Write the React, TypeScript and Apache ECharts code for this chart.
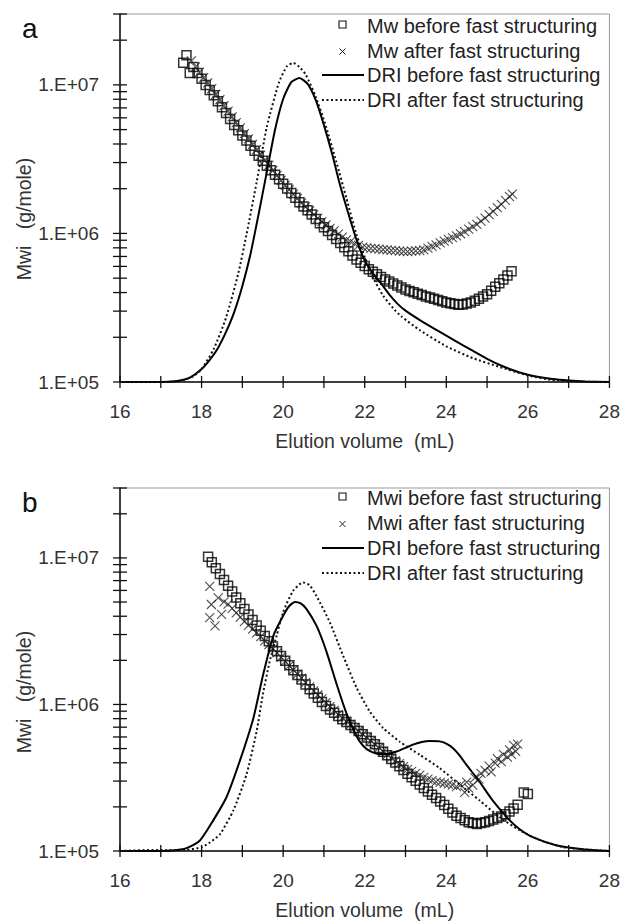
import React, { useEffect, useRef } from "react";
import * as echarts from "echarts";

const FONT = '"Liberation Sans", Arial, Helvetica, sans-serif';

// ---------- shared axis data ----------
const xTickValues = [16, 17, 18, 19, 20, 21, 22, 23, 24, 25, 26, 27, 28];
const yTickValues = [
  1e5, 2e5, 3e5, 4e5, 5e5, 6e5, 7e5, 8e5, 9e5,
  1e6, 2e6, 3e6, 4e6, 5e6, 6e6, 7e6, 8e6, 9e6,
  1e7, 2e7, 3e7,
];
const xAxisTitle = "Elution volume  (mL)";
const yAxisTitle = "Mwi   (g/mole)";

// ---------- panel a ----------
const aLegend = [
  "Mw before fast structuring",
  "Mw after fast structuring",
  "DRI before fast structuring",
  "DRI after fast structuring",
];

// Mw before fast structuring (squares): [elution volume mL, g/mole]
const aMwBefore: [number, number][] = [
  [17.55, 1.41e7], [17.63, 1.58e7], [17.71, 1.2e7], [17.8, 1.32e7], [17.9, 1.2e7],
  [18.0, 1.1e7], [18.1, 1.0e7], [18.2, 9.23e6], [18.3, 8.51e6], [18.4, 7.76e6],
  [18.5, 7.08e6], [18.6, 6.46e6], [18.7, 5.89e6], [18.8, 5.37e6], [18.9, 4.95e6],
  [19.0, 4.57e6], [19.1, 4.22e6], [19.2, 3.89e6], [19.3, 3.6e6], [19.4, 3.33e6],
  [19.5, 3.08e6], [19.6, 2.85e6], [19.7, 2.66e6], [19.8, 2.48e6], [19.9, 2.32e6],
  [20.0, 2.16e6], [20.1, 2.01e6], [20.2, 1.87e6], [20.3, 1.74e6], [20.4, 1.62e6],
  [20.5, 1.52e6], [20.6, 1.43e6], [20.7, 1.34e6], [20.8, 1.25e6], [20.9, 1.17e6],
  [21.0, 1.1e6], [21.1, 1.04e6], [21.2, 9.75e5], [21.3, 9.16e5], [21.4, 8.61e5],
  [21.5, 8.07e5], [21.6, 7.59e5], [21.7, 7.11e5], [21.8, 6.68e5], [21.9, 6.35e5],
  [22.0, 6.04e5], [22.1, 5.75e5], [22.2, 5.52e5], [22.3, 5.31e5], [22.4, 5.09e5],
  [22.5, 4.9e5], [22.6, 4.74e5], [22.7, 4.6e5], [22.8, 4.46e5], [22.9, 4.33e5],
  [23.0, 4.19e5], [23.1, 4.1e5], [23.2, 4.02e5], [23.3, 3.93e5], [23.4, 3.85e5],
  [23.5, 3.77e5], [23.6, 3.7e5], [23.7, 3.63e5], [23.8, 3.56e5], [23.9, 3.49e5],
  [24.0, 3.43e5], [24.1, 3.39e5], [24.2, 3.35e5], [24.3, 3.31e5], [24.4, 3.33e5],
  [24.5, 3.37e5], [24.6, 3.43e5], [24.7, 3.52e5], [24.8, 3.63e5], [24.9, 3.76e5],
  [25.0, 3.89e5], [25.1, 4.12e5], [25.2, 4.37e5], [25.3, 4.62e5], [25.4, 4.9e5],
  [25.5, 5.22e5], [25.6, 5.56e5],
];

// Mw after fast structuring (crosses)
const aMwAfter: [number, number][] = [
  [17.75, 1.45e7], [17.85, 1.32e7], [17.95, 1.22e7], [18.05, 1.12e7], [18.15, 1.03e7],
  [18.25, 9.44e6], [18.35, 8.65e6], [18.45, 7.94e6], [18.55, 7.24e6], [18.65, 6.65e6],
  [18.75, 6.1e6], [18.85, 5.58e6], [18.95, 5.13e6], [19.05, 4.7e6], [19.15, 4.33e6],
  [19.25, 3.98e6], [19.35, 3.66e6], [19.45, 3.37e6], [19.55, 3.11e6], [19.65, 2.88e6],
  [19.75, 2.66e6], [19.85, 2.46e6], [19.95, 2.28e6], [20.05, 2.11e6], [20.15, 1.97e6],
  [20.25, 1.84e6], [20.35, 1.72e6], [20.45, 1.6e6], [20.55, 1.51e6], [20.65, 1.42e6],
  [20.75, 1.34e6], [20.85, 1.27e6], [20.95, 1.2e6], [21.05, 1.14e6], [21.15, 1.08e6],
  [21.25, 1.04e6], [21.35, 9.89e5], [21.45, 9.44e5], [21.55, 9.06e5], [21.65, 8.81e5],
  [21.75, 8.55e5], [21.85, 8.32e5], [21.95, 8.09e5], [22.05, 8.0e5], [22.15, 7.94e5],
  [22.25, 7.89e5], [22.35, 7.83e5], [22.45, 7.78e5], [22.55, 7.74e5], [22.65, 7.69e5],
  [22.75, 7.66e5], [22.85, 7.6e5], [22.95, 7.57e5], [23.05, 7.55e5], [23.15, 7.59e5],
  [23.25, 7.62e5], [23.35, 7.66e5], [23.45, 7.76e5], [23.55, 7.96e5], [23.65, 8.17e5],
  [23.75, 8.39e5], [23.85, 8.63e5], [23.95, 8.87e5], [24.05, 9.12e5], [24.15, 9.38e5],
  [24.25, 9.64e5], [24.35, 9.95e5], [24.45, 1.03e6], [24.55, 1.07e6], [24.65, 1.11e6],
  [24.75, 1.15e6], [24.85, 1.21e6], [24.95, 1.27e6], [25.05, 1.34e6], [25.15, 1.41e6],
  [25.25, 1.49e6], [25.35, 1.57e6], [25.45, 1.67e6], [25.55, 1.77e6], [25.62, 1.84e6],
];

// DRI signals, relative response (0-100 of the hidden right-hand scale)
const aDriBefore: [number, number][] = [
  [16, 0], [16.5, 0], [17, 0], [17.4, 0.3], [17.7, 1.1], [18, 3.5], [18.2, 6.0],
  [18.4, 9.2], [18.6, 13.6], [18.8, 19.0], [19, 26.1], [19.2, 34.8], [19.4, 45.7],
  [19.6, 57.1], [19.8, 68.5], [20, 76.9], [20.2, 81.5], [20.4, 82.6], [20.6, 81.0],
  [20.8, 76.6], [21, 69.8], [21.2, 62.0], [21.4, 53.3], [21.6, 45.7], [21.8, 38.6],
  [22, 33.0], [22.2, 29.5], [22.4, 26.8], [22.6, 23.8], [22.8, 21.3], [23, 19.4],
  [23.4, 16.5], [23.8, 13.9], [24.2, 11.3], [24.6, 8.8], [25, 6.3], [25.4, 4.2],
  [25.8, 2.6], [26.2, 1.5], [26.6, 0.8], [27, 0.4], [27.4, 0.15], [28, 0],
];
const aDriAfter: [number, number][] = [
  [16, 0], [16.6, 0], [17, 0], [17.5, 0.3], [17.8, 1.6], [18, 3.5], [18.3, 9.0],
  [18.6, 17.5], [18.9, 29.5], [19.1, 40.0], [19.35, 54.3], [19.6, 69.3], [19.9, 81.5],
  [20.1, 85.9], [20.25, 86.7], [20.4, 85.6], [20.55, 83.6], [20.8, 77.5], [21.05, 69.5],
  [21.3, 60.0], [21.55, 50.0], [21.8, 40.0], [22.0, 34.0], [22.2, 28.5], [22.45, 23.5],
  [22.7, 20.0], [22.9, 17.8], [23.35, 14.1], [24, 9.7], [24.65, 6.5], [25.3, 4.1],
  [25.96, 1.9], [26.6, 0.5], [27.2, 0.1], [28, 0],
];

// ---------- panel b ----------
const bLegend = [
  "Mwi before fast structuring",
  "Mwi after fast structuring",
  "DRI before fast structuring",
  "DRI after fast structuring",
];

const bMwBefore: [number, number][] = [
  [18.16, 1.02e7], [18.25, 9.33e6], [18.35, 8.51e6], [18.45, 7.76e6], [18.55, 7.08e6],
  [18.65, 6.46e6], [18.75, 5.89e6], [18.85, 5.37e6], [18.95, 4.9e6], [19.05, 4.48e6],
  [19.15, 4.11e6], [19.25, 3.77e6], [19.35, 3.46e6], [19.45, 3.18e6], [19.55, 2.93e6],
  [19.65, 2.7e6], [19.75, 2.49e6], [19.85, 2.31e6], [19.95, 2.14e6], [20.05, 1.99e6],
  [20.15, 1.85e6], [20.25, 1.71e6], [20.35, 1.59e6], [20.45, 1.48e6], [20.55, 1.37e6],
  [20.65, 1.27e6], [20.75, 1.19e6], [20.85, 1.11e6], [20.95, 1.04e6], [21.05, 9.75e5],
  [21.15, 9.25e5], [21.25, 8.79e5], [21.35, 8.34e5], [21.45, 7.94e5], [21.55, 7.59e5],
  [21.65, 7.24e5], [21.75, 6.92e5], [21.85, 6.59e5], [21.95, 6.25e5], [22.05, 5.94e5],
  [22.15, 5.64e5], [22.25, 5.35e5], [22.35, 5.05e5], [22.45, 4.75e5], [22.55, 4.5e5],
  [22.65, 4.25e5], [22.75, 4.01e5], [22.85, 3.78e5], [22.95, 3.57e5], [23.05, 3.37e5],
  [23.15, 3.18e5], [23.25, 3.01e5], [23.35, 2.84e5], [23.45, 2.69e5], [23.55, 2.55e5],
  [23.65, 2.42e5], [23.75, 2.3e5], [23.85, 2.18e5], [23.95, 2.06e5], [24.05, 1.94e5],
  [24.15, 1.83e5], [24.25, 1.74e5], [24.35, 1.68e5], [24.45, 1.62e5], [24.55, 1.57e5],
  [24.65, 1.55e5], [24.75, 1.53e5], [24.85, 1.55e5], [24.95, 1.57e5], [25.05, 1.6e5],
  [25.15, 1.64e5], [25.25, 1.68e5], [25.35, 1.72e5], [25.45, 1.78e5], [25.55, 1.86e5],
  [25.65, 1.95e5], [25.75, 2.07e5], [25.9, 2.51e5], [26.0, 2.45e5],
];

const bMwAfter: [number, number][] = [
  [18.2, 6.4e6], [18.2, 3.91e6], [18.24, 4.81e6], [18.33, 3.44e6], [18.41, 5.33e6],
  [18.49, 4.12e6], [18.55, 5.01e6], [18.65, 4.84e6], [18.75, 4.52e6], [18.85, 4.22e6],
  [18.95, 3.94e6], [19.05, 3.68e6], [19.15, 3.47e6], [19.25, 3.27e6], [19.35, 3.08e6],
  [19.45, 2.9e6], [19.55, 2.72e6], [19.65, 2.56e6], [19.75, 2.4e6], [19.85, 2.25e6],
  [19.95, 2.1e6], [20.05, 1.97e6], [20.15, 1.84e6], [20.25, 1.72e6], [20.35, 1.61e6],
  [20.45, 1.51e6], [20.55, 1.41e6], [20.65, 1.32e6], [20.75, 1.24e6], [20.85, 1.16e6],
  [20.95, 1.09e6], [21.05, 1.03e6], [21.15, 9.68e5], [21.25, 9.12e5], [21.35, 8.57e5],
  [21.45, 8.11e5], [21.55, 7.69e5], [21.65, 7.31e5], [21.75, 6.93e5], [21.85, 6.59e5],
  [21.95, 6.25e5], [22.05, 5.94e5], [22.15, 5.64e5], [22.25, 5.35e5], [22.35, 5.07e5],
  [22.45, 4.8e5], [22.55, 4.54e5], [22.65, 4.32e5], [22.75, 4.12e5], [22.85, 3.94e5],
  [22.95, 3.76e5], [23.05, 3.61e5], [23.15, 3.5e5], [23.25, 3.39e5], [23.35, 3.29e5],
  [23.45, 3.18e5], [23.55, 3.09e5], [23.65, 3.02e5], [23.75, 2.96e5], [23.85, 2.94e5],
  [23.95, 2.9e5], [24.05, 2.86e5], [24.15, 2.82e5], [24.25, 2.75e5], [24.35, 2.83e5],
  [24.45, 2.51e5], [24.5, 2.95e5], [24.55, 2.69e5], [24.65, 2.82e5], [24.7, 3.16e5],
  [24.8, 3.09e5], [24.85, 3.39e5], [24.95, 3.55e5], [25.05, 3.8e5], [25.1, 3.47e5],
  [25.2, 3.98e5], [25.25, 4.27e5], [25.35, 4.07e5], [25.4, 4.57e5], [25.5, 4.37e5],
  [25.55, 4.9e5], [25.6, 4.57e5], [25.65, 5.25e5], [25.7, 4.79e5], [25.75, 5.37e5],
];

const bDriBefore: [number, number][] = [
  [16, 0], [16.5, 0], [17, 0], [17.4, 0.3], [17.63, 0.8], [17.96, 2.9], [18.29, 8.5],
  [18.61, 14.8], [18.94, 24.9], [19.27, 36.6], [19.51, 48.6], [19.76, 59.3], [20.0, 64.8],
  [20.15, 67.5], [20.29, 68.6], [20.43, 68.2], [20.57, 66.7], [20.82, 62.0], [21.06, 55.0],
  [21.31, 46.0], [21.55, 38.0], [21.8, 31.6], [21.96, 29.0], [22.12, 27.6], [22.37, 26.7],
  [22.58, 26.8], [22.78, 27.4], [23.0, 28.4], [23.18, 29.3], [23.4, 30.0], [23.59, 30.3],
  [23.84, 30.2], [24.0, 29.6], [24.16, 28.4], [24.33, 26.3], [24.49, 23.8], [24.82, 19.0],
  [25.14, 13.9], [25.55, 8.5], [25.8, 6.0], [26.12, 3.8], [26.69, 1.6], [27.35, 0.5], [28, 0],
];
const bDriAfter: [number, number][] = [
  [16, 0], [16.8, 0.3], [17.2, 0.2], [17.6, 0.3], [18.0, 1.0], [18.2, 2.3], [18.45, 4.6],
  [18.78, 11.2], [19.1, 21.0], [19.35, 33.0], [19.5, 43.0], [19.67, 52.2], [19.84, 59.3],
  [20.0, 65.8], [20.24, 71.6], [20.49, 74.0], [20.65, 73.2], [20.82, 70.2], [21.14, 63.1],
  [21.47, 53.8], [21.8, 45.0], [22.12, 38.5], [22.45, 33.9], [22.86, 30.1], [23.35, 26.5],
  [23.84, 22.8], [24.33, 18.3], [24.82, 13.9], [25.31, 9.3], [25.8, 5.7], [26.29, 3.0],
  [26.86, 1.1], [27.3, 0.5], [28, 0],
];

// ---------- layout ----------
const GRIDS = [
  { left: 120, top: 14, width: 490, height: 368 },
  { left: 120, top: 488, width: 490, height: 366 },
];
const PANEL_LETTERS = ["a", "b"];
const LETTER_POS = [[22, 28], [22, 502]];
const YTITLE_POS = [[23.5, 219], [23.5, 692]];
const LEGEND_ROWS = [[26, 50.5, 75, 100], [498, 523, 548, 573]];

const CROSS = "path://M0 0L10 10M10 0L0 10";

function fmtLog(v: number) {
  const lg = Math.log10(v);
  const e = Math.round(lg);
  if (Math.abs(lg - e) > 1e-6) return "";
  return "1.E+" + String(e).padStart(2, "0");
}

function tickSeries(xi: number, yi: number, data: number[][], dir: "x" | "y") {
  return {
    type: "custom",
    xAxisIndex: xi,
    yAxisIndex: yi,
    data,
    silent: true,
    clip: false,
    z: 10,
    renderItem: (_p: any, api: any) => {
      const p = api.coord([api.value(0), api.value(1)]);
      const shape =
        dir === "y"
          ? { x1: p[0] - 7, y1: p[1], x2: p[0] + 7, y2: p[1] }
          : { x1: p[0], y1: p[1] - 6, x2: p[0], y2: p[1] + 6 };
      return { type: "line", shape, style: { stroke: "#111", lineWidth: 1.3 } };
    },
  };
}

function legendGraphic(labels: string[], rows: number[]) {
  const els: any[] = [];
  const textX = 367;
  const mx = 342.5;
  labels.forEach((t, i) => {
    els.push({
      type: "text",
      x: textX,
      y: rows[i],
      style: { text: t, fontSize: 20, fontFamily: FONT, fill: "#222", align: "left", verticalAlign: "middle" },
    });
  });
  els.push({
    type: "rect",
    shape: { x: mx - 3.5, y: rows[0] - 5, width: 7, height: 7 },
    style: { fill: "none", stroke: "#111", lineWidth: 1.1 },
  });
  const cy = rows[1] + 1;
  els.push({ type: "line", shape: { x1: mx - 3, y1: cy - 3, x2: mx + 3, y2: cy + 3 }, style: { stroke: "#222", lineWidth: 1 } });
  els.push({ type: "line", shape: { x1: mx - 3, y1: cy + 3, x2: mx + 3, y2: cy - 3 }, style: { stroke: "#222", lineWidth: 1 } });
  els.push({ type: "line", shape: { x1: 322, y1: rows[2], x2: 364, y2: rows[2] }, style: { stroke: "#000", lineWidth: 2 } });
  els.push({
    type: "line",
    shape: { x1: 322, y1: rows[3], x2: 364, y2: rows[3] },
    style: { stroke: "#111", lineWidth: 2, lineDash: [2, 2.5] },
  });
  return els;
}

export default function App() {
  const ref = useRef<HTMLDivElement>(null);

  useEffect(() => {
    if (!ref.current) return;
    const chart = echarts.init(ref.current, undefined, { renderer: "svg" });

    const panels = [
      { before: aMwBefore, after: aMwAfter, driB: aDriBefore, driA: aDriAfter },
      { before: bMwBefore, after: bMwAfter, driB: bDriBefore, driA: bDriAfter },
    ];

    const xAxis = [0, 1].map((i) => ({
      gridIndex: i,
      type: "value",
      min: 16,
      max: 28,
      interval: 2,
      axisLine: { lineStyle: { color: "#111", width: 1.5 } },
      axisTick: { show: false },
      splitLine: { show: false },
      axisLabel: { fontSize: 19, color: "#333", margin: 20, fontFamily: FONT },
      name: xAxisTitle,
      nameLocation: "middle",
      nameGap: 49,
      nameTextStyle: { fontSize: 19.5, color: "#333", fontFamily: FONT },
    }));

    const yAxis: any[] = [];
    [0, 1].forEach((i) => {
      yAxis.push({
        gridIndex: i,
        type: "log",
        logBase: 10,
        min: 1e5,
        max: 3e7,
        axisLine: { show: true, lineStyle: { color: "#111", width: 1.5 } },
        axisTick: { show: false },
        splitLine: { show: false },
        axisLabel: { fontSize: 19, color: "#333", margin: 21, fontFamily: FONT, formatter: fmtLog },
      });
      yAxis.push({ gridIndex: i, type: "value", min: 0, max: 100, show: false, splitLine: { show: false } });
    });

    const series: any[] = [];
    panels.forEach((p, i) => {
      const logY = i * 2;
      const linY = i * 2 + 1;
      series.push({
        type: "scatter",
        name: i === 0 ? "Mw before fast structuring" : "Mwi before fast structuring",
        xAxisIndex: i,
        yAxisIndex: logY,
        data: p.before,
        symbol: "rect",
        symbolSize: 9,
        itemStyle: { color: "none", borderColor: "#000", borderWidth: 1.5 },
        z: 3,
      });
      series.push({
        type: "scatter",
        name: i === 0 ? "Mw after fast structuring" : "Mwi after fast structuring",
        xAxisIndex: i,
        yAxisIndex: logY,
        data: p.after,
        symbol: CROSS,
        symbolSize: 9,
        itemStyle: { color: "none", borderColor: "#222", borderWidth: 1.1 },
        z: 4,
      });
      series.push({
        type: "line",
        name: "DRI before fast structuring",
        xAxisIndex: i,
        yAxisIndex: linY,
        data: p.driB,
        showSymbol: false,
        symbol: "none",
        smooth: 0.2,
        lineStyle: { color: "#000", width: 2 },
        z: 5,
      });
      series.push({
        type: "line",
        name: "DRI after fast structuring",
        xAxisIndex: i,
        yAxisIndex: linY,
        data: p.driA,
        showSymbol: false,
        symbol: "none",
        smooth: 0.2,
        lineStyle: { color: "#111", width: 2, type: [2, 2.5] },
        z: 5,
      });
      series.push(tickSeries(i, logY, yTickValues.map((v) => [16, v]), "y"));
      series.push(tickSeries(i, logY, xTickValues.map((v) => [v, 1e5]), "x"));
    });

    const graphic: any[] = [];
    [0, 1].forEach((i) => {
      graphic.push({
        type: "text",
        x: LETTER_POS[i][0],
        y: LETTER_POS[i][1],
        style: { text: PANEL_LETTERS[i], fontSize: 28, fontFamily: FONT, fill: "#111", align: "left", verticalAlign: "middle" },
      });
      graphic.push({
        type: "text",
        x: YTITLE_POS[i][0],
        y: YTITLE_POS[i][1],
        rotation: Math.PI / 2,
        style: { text: yAxisTitle, fontSize: 19.5, fontFamily: FONT, fill: "#333", align: "center", verticalAlign: "middle" },
      });
      graphic.push(...legendGraphic(i === 0 ? aLegend : bLegend, LEGEND_ROWS[i]));
    });

    chart.setOption({
      animation: false,
      backgroundColor: "#fff",
      textStyle: { fontFamily: FONT },
      grid: GRIDS.map((g) => ({ ...g, show: true, borderColor: "#999", borderWidth: 1, containLabel: false })),
      xAxis,
      yAxis,
      series,
      graphic,
    });

    return () => chart.dispose();
  }, []);

  return (
    <div
      ref={ref}
      style={{ position: "absolute", left: 0, top: 0, width: 623, height: 921, background: "#fff" }}
    />
  );
}
